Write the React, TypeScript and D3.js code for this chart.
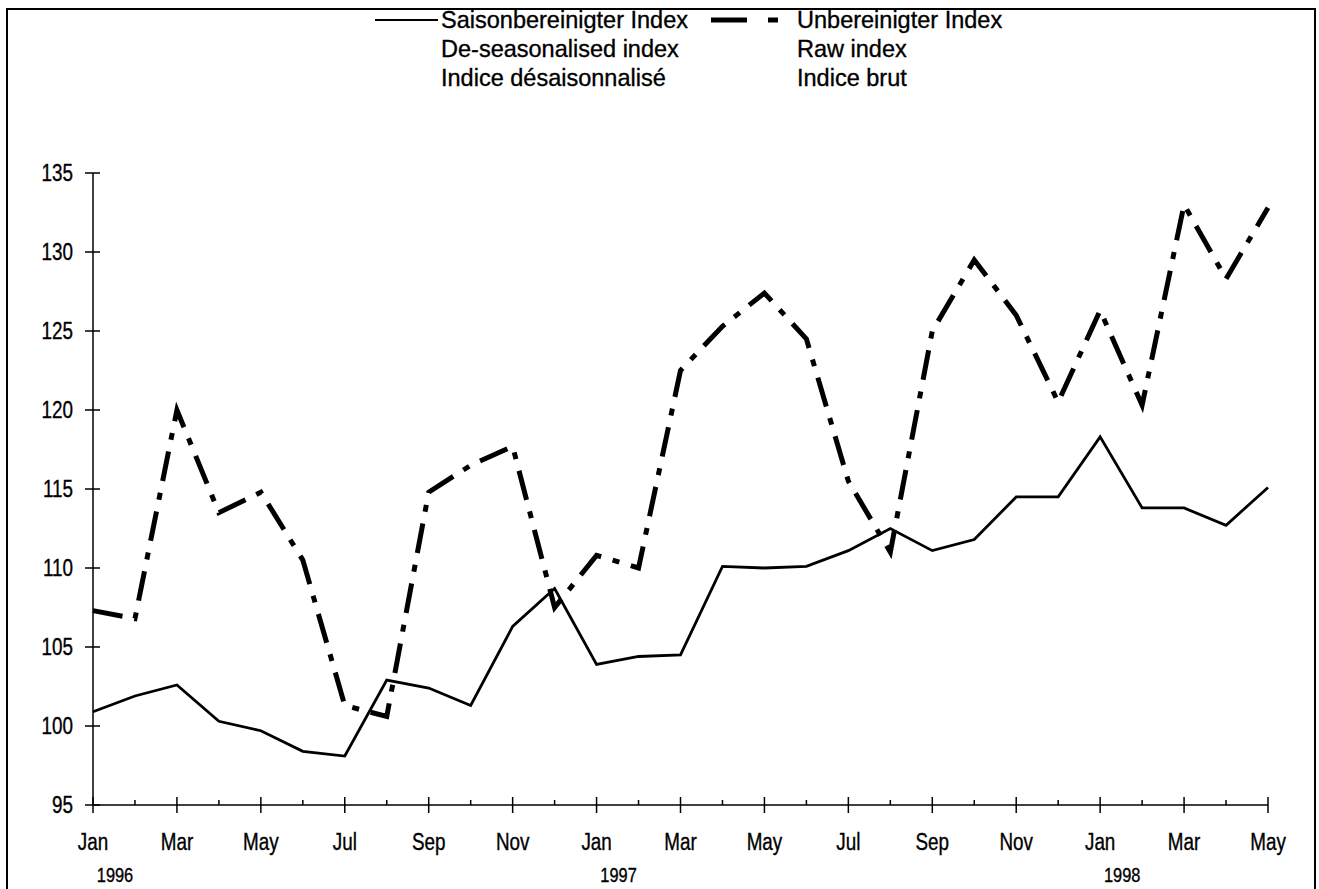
import React, { useEffect, useRef } from "react";
import * as d3 from "d3";

const months = [
  "Jan", "Feb", "Mar", "Apr", "May", "Jun", "Jul", "Aug", "Sep", "Oct", "Nov", "Dec",
  "Jan", "Feb", "Mar", "Apr", "May", "Jun", "Jul", "Aug", "Sep", "Oct", "Nov", "Dec",
  "Jan", "Feb", "Mar", "Apr", "May",
];
const years = [
  { idx: 0, label: "1996" },
  { idx: 12, label: "1997" },
  { idx: 24, label: "1998" },
];

const deseasonalised = [
  100.9, 101.9, 102.6, 100.3, 99.7, 98.4, 98.1, 102.9, 102.4, 101.3, 106.3, 108.7,
  103.9, 104.4, 104.5, 110.1, 110.0, 110.1, 111.1, 112.5, 111.1, 111.8, 114.5, 114.5,
  118.3, 113.8, 113.8, 112.7, 115.1,
];
const raw = [
  107.3, 106.8, 120.0, 113.5, 114.8, 110.5, 101.3, 100.6, 114.8, 116.5, 117.7, 107.5,
  110.8, 110.0, 122.5, 125.3, 127.4, 124.5, 115.5, 111.0, 125.0, 129.5, 126.0, 120.5,
  126.3, 120.3, 133.0, 128.3, 132.8,
];
const yTicks = [95, 100, 105, 110, 115, 120, 125, 130, 135];

const legendSolid = ["Saisonbereinigter Index", "De-seasonalised index", "Indice désaisonnalisé"];
const legendDashed = ["Unbereinigter Index", "Raw index", "Indice brut"];

const W = 1319;
const H = 889;
const FONT = "'Liberation Sans', Arial, sans-serif";

export default function App() {
  const ref = useRef<SVGSVGElement>(null);

  useEffect(() => {
    const svg = d3.select(ref.current);
    svg.selectAll("*").remove();

    const x = d3.scaleLinear().domain([0, months.length - 1]).range([93, 1268]);
    const y = d3.scaleLinear().domain([95, 135]).range([805, 173]);

    // condensed text helper (no narrow font installed)
    const label = (g: any, tx: number, ty: number, text: string, size: number, anchor = "start", k = 0.82) =>
      g.append("text")
        .attr("transform", `translate(${tx},${ty}) scale(${k},1)`)
        .attr("text-anchor", anchor)
        .attr("font-family", FONT).attr("font-size", size).attr("fill", "#000")
        .attr("stroke", "#000").attr("stroke-width", 0.35)
        .text(text);

    // frame
    svg.append("path")
      .attr("d", "M7,889 V9 H1315 V889")
      .attr("fill", "none").attr("stroke", "#000").attr("stroke-width", 2);

    // y axis
    const yg = svg.append("g");
    yg.append("line").attr("x1", x(0)).attr("x2", x(0)).attr("y1", y(95)).attr("y2", y(135))
      .attr("stroke", "#000").attr("stroke-width", 1.5);
    yg.selectAll("line.tk").data(yTicks).join("line")
      .attr("class", "tk")
      .attr("x1", 85).attr("x2", 100)
      .attr("y1", (d) => y(d)).attr("y2", (d) => y(d))
      .attr("stroke", "#000").attr("stroke-width", 1.5);
    yTicks.forEach((t) => label(yg, 73, y(t) + 8, String(t), 23, "end"));

    // x axis
    const xg = svg.append("g");
    xg.append("line")
      .attr("x1", x(0)).attr("x2", x(months.length - 1))
      .attr("y1", y(95)).attr("y2", y(95))
      .attr("stroke", "#000").attr("stroke-width", 1.5);
    xg.selectAll("line.tk").data(months.map((m, i) => i)).join("line")
      .attr("class", "tk")
      .attr("x1", (i) => x(i)).attr("x2", (i) => x(i))
      .attr("y1", (i) => (i % 2 === 0 ? y(95) - 8 : y(95) - 5))
      .attr("y2", (i) => (i % 2 === 0 ? y(95) + 8 : y(95)))
      .attr("stroke", "#000").attr("stroke-width", 1.5);
    months.forEach((m, i) => {
      if (i % 2 === 0) label(xg, x(i), 850, m, 23, "middle");
    });
    years.forEach((d) => label(xg, x(d.idx) + 22, 882, d.label, 20, "middle"));

    // lines
    const ln = d3.line<number>().x((d, i) => x(i)).y((d) => y(d));
    svg.append("path")
      .attr("d", ln(raw))
      .attr("fill", "none").attr("stroke", "#000").attr("stroke-width", 5)
      .attr("stroke-dasharray", "30 12 7 12");
    svg.append("path")
      .attr("d", ln(deseasonalised))
      .attr("fill", "none").attr("stroke", "#000").attr("stroke-width", 2.8);

    // legend
    const lg = svg.append("g");
    lg.append("line").attr("x1", 375).attr("x2", 438).attr("y1", 20).attr("y2", 20)
      .attr("stroke", "#000").attr("stroke-width", 2.2);
    legendSolid.forEach((t, i) => label(lg, 441, 28 + i * 29, t, 24, "start", 0.98));
    lg.append("line").attr("x1", 711).attr("x2", 778).attr("y1", 20).attr("y2", 20)
      .attr("stroke", "#000").attr("stroke-width", 5).attr("stroke-dasharray", "36 21 10 30");
    legendDashed.forEach((t, i) => label(lg, 797, 28 + i * 29, t, 24, "start", 0.98));
  }, []);

  return (
    <svg
      ref={ref}
      width={W}
      height={H}
      style={{ position: "absolute", left: 0, top: 0, background: "#fff" }}
    />
  );
}
